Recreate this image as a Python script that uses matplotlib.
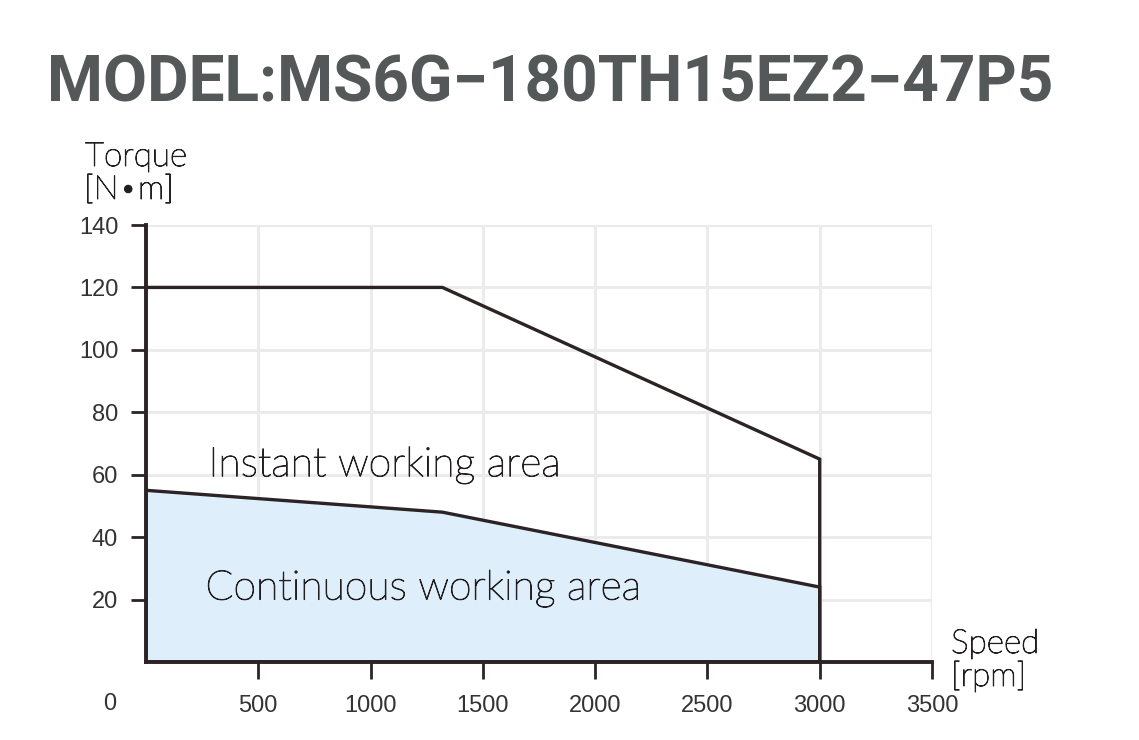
import matplotlib
matplotlib.use("Agg")
import matplotlib.pyplot as plt
import matplotlib.patheffects as pe

# ---- data ----
peak_speed = [0, 1320, 3000, 3000]
peak_torque = [120, 120, 65, 0]
cont_speed = [0, 1320, 3000]
cont_torque = [55, 48, 24]
x_ticks = [500, 1000, 1500, 2000, 2500, 3000, 3500]
y_ticks = [20, 40, 60, 80, 100, 120, 140]
title = "MODEL:MS6G\u2212180TH15EZ2\u221247P5"

dark = "#2b2324"
label_col = "#333333"
fill_col = "#deeefa"
grid_col = "#ebebeb"

fig = plt.figure(figsize=(11.39, 7.40), dpi=100)
ax = fig.add_axes([146/1139, 1-662/740, (932-146)/1139, (662-225)/740])
ax.set_xlim(0, 3500)
ax.set_ylim(0, 140)

ax.set_xticks(x_ticks)
ax.set_yticks(y_ticks)
ax.grid(True, color=grid_col, linewidth=2.2, zorder=0)
ax.set_axisbelow(True)

ax.set_xticklabels([str(v) for v in x_ticks], fontsize=17, family="Liberation Sans", color=label_col)
ax.set_yticklabels([str(v) for v in y_ticks], fontsize=17, family="Liberation Sans", color=label_col)
ax.tick_params(axis="x", direction="out", length=12, width=2, color=dark, pad=12)
ax.tick_params(axis="y", direction="out", length=11, width=2, color=dark, pad=9)
ax.text(-160, -0.095, "0", transform=ax.get_xaxis_transform(), ha="center", va="center",
        fontsize=17, family="Liberation Sans", color=label_col)

for s in ["top", "right"]:
    ax.spines[s].set_visible(False)
for s in ["left", "bottom"]:
    ax.spines[s].set_linewidth(2.8)
    ax.spines[s].set_color(dark)

# continuous area
fx = cont_speed + [cont_speed[-1], 0]
fy = cont_torque + [0, 0]
ax.fill(fx, fy, color=fill_col, zorder=2)
ax.plot(fx + [fx[0]], fy + [fy[0]], color=dark, linewidth=2.4, zorder=3, solid_joinstyle="miter")
ax.plot(peak_speed, peak_torque, color=dark, linewidth=2.4, zorder=3, solid_joinstyle="miter")

txt_col = "#231f20"
thick = [pe.withStroke(linewidth=0.7, foreground=txt_col)]
ann_font = dict(family=["Lato", "DejaVu Sans"], weight="light", color=txt_col, path_effects=thick)
ax.text(278, 59.5, "Instant working area", fontsize=29.5, ha="left", va="baseline", **ann_font)
ax.text(265, 20, "Continuous working area", fontsize=29.5, ha="left", va="baseline", **ann_font)

fig.text(85/1139, 1-166/740, "Torque", fontsize=24, ha="left", va="baseline", **ann_font)
fig.text(84/1139, 1-199/740, "[N\u2022m]", fontsize=24, ha="left", va="baseline", **ann_font)
fig.text(951/1139, 1-653/740, "Speed", fontsize=24, ha="left", va="baseline", **ann_font)
fig.text(951/1139, 1-686/740, "[rpm]", fontsize=24, ha="left", va="baseline", **ann_font)

fig.text(47/1139, 1-101/740, title, fontsize=46, weight="bold", family="Roboto",
         color="#545858", ha="left", va="baseline")

fig.savefig("out.png", dpi=100)
